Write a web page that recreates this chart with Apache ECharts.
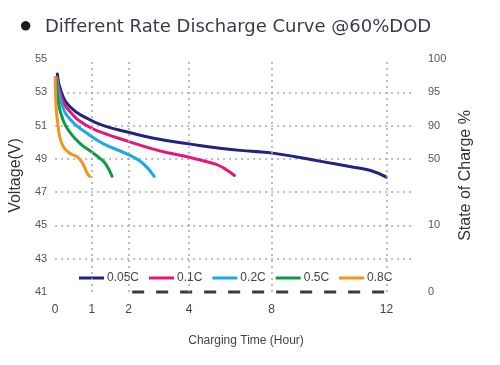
<!DOCTYPE html>
<html>
<head>
<meta charset="utf-8">
<script src="https://cdn.jsdelivr.net/npm/echarts@6/dist/echarts.min.js"></script>
<style>html,body{margin:0;padding:0;background:#fff}#c{width:500px;height:365px}</style>
</head>
<body>
<div id="c"></div>
<script>
// ---- data ----
const seriesNames = ['0.05C', '0.1C', '0.2C', '0.5C', '0.8C'];
const seriesColors = ['#23237e', '#e5177b', '#1ba9e8', '#0e9a48', '#f39321'];

const hours005 = [0.06, 0.17, 0.42, 0.86, 1.32, 2, 2.79, 4, 5.59, 7.04, 8.1, 9.72, 10.86, 11.45, 12];
const volts005 = [54.1, 53.0, 52.1, 51.45, 51.0, 50.6, 50.25, 49.9, 49.62, 49.45, 49.33, 48.85, 48.5, 48.3, 47.9];

const hours01 = [0.05, 0.17, 0.42, 0.86, 1.32, 2, 2.79, 3.34, 4, 5.1, 5.45, 5.83, 6.2];
const volts01 = [53.9, 52.7, 51.8, 51.0, 50.55, 50.05, 49.6, 49.35, 49.1, 48.75, 48.6, 48.33, 48.0];

const hours02 = [0.04, 0.17, 0.42, 0.86, 1.32, 2, 2.46, 2.85];
const volts02 = [53.85, 52.35, 51.35, 50.55, 49.9, 49.25, 48.75, 47.95];

const hours05 = [0.03, 0.08, 0.22, 0.42, 0.69, 0.97, 1.24, 1.39, 1.55];
const volts05 = [53.8, 52.5, 51.3, 50.55, 49.9, 49.45, 49.0, 48.65, 47.95];

const hours08 = [0, 0.01, 0.03, 0.08, 0.17, 0.36, 0.64, 0.78, 0.86, 0.94];
const volts08 = [53.9, 53.0, 52.05, 51.0, 50.0, 49.4, 49.05, 48.6, 48.2, 47.95];

// x-axis tick labels (hours) and where the broken axis places them
const hourTicks = [0, 1, 2, 4, 8, 12];
const tickPos = [0, 1, 2, 3.65, 5.9, 9.03];

// right axis: state of charge labels at voltage levels
const socVolt = [55, 53, 51, 49, 45, 41];
const socLabel = ['100', '95', '90', '50', '10', '0'];

// axis break decoration (hours)
const breakFrom = 2, breakTo = 12, breakVolt = 41;

// ---- helpers ----
function hourToPos(h) {
  for (let i = 0; i < hourTicks.length - 1; i++) {
    if (h <= hourTicks[i + 1]) {
      const t = (h - hourTicks[i]) / (hourTicks[i + 1] - hourTicks[i]);
      return tickPos[i] + t * (tickPos[i + 1] - tickPos[i]);
    }
  }
  return tickPos[tickPos.length - 1];
}
function posToLabel(p) {
  for (let i = 0; i < tickPos.length; i++) if (Math.abs(p - tickPos[i]) < 1e-6) return String(hourTicks[i]);
  return '';
}
const allHours = [hours005, hours01, hours02, hours05, hours08];
const allVolts = [volts005, volts01, volts02, volts05, volts08];

const font = 'Liberation Sans, Arial, sans-serif';
const series = seriesNames.map((n, i) => ({
  name: n, type: 'line', smooth: 0.5, symbol: 'none',
  lineStyle: { width: 3, color: seriesColors[i], cap: 'round', join: 'round' },
  itemStyle: { color: seriesColors[i] },
  data: allHours[i].map((h, k) => [hourToPos(h), allVolts[i][k]])
}));
series.push({
  name: 'break', type: 'line', symbol: 'none', silent: true, clip: false,
  lineStyle: { width: 3, color: '#3a3a3a', type: [12, 12] },
  data: [[hourToPos(breakFrom) + 0.1, breakVolt], [hourToPos(breakTo), breakVolt]],
  markLine: {
    silent: true, symbol: 'none', label: { show: false },
    lineStyle: { type: [2, 4], color: '#a8a8a8', width: 1.5 },
    data: tickPos.slice(1).map(p => ({ xAxis: p }))
  }
});

const chart = echarts.init(document.getElementById('c'));
chart.setOption({
  animation: false,
  backgroundColor: '#fff',
  title: {
    text: '{b|●} Different Rate Discharge Curve @60%DOD',
    left: 19, top: 15, padding: 0,
    textStyle: {
      fontFamily: 'DejaVu Sans, sans-serif', fontSize: 18, fontWeight: 'normal', color: '#3b3b48',
      rich: { b: { fontSize: 22, color: '#1a1a1a', fontFamily: font, padding: [0, 7, 2, 0] } }
    }
  },
  legend: {
    data: seriesNames, left: 79, top: 272, padding: 0, itemWidth: 25, itemHeight: 3, itemGap: 10,
    icon: 'rect',
    textStyle: { fontFamily: font, fontSize: 12, color: '#444', padding: [0, 0, 0, -2] }
  },
  grid: { left: 52, right: 85, top: 59, bottom: 73 },
  xAxis: {
    type: 'value', min: 0, max: 9.81,
    axisLine: { show: false }, axisTick: { show: false }, splitLine: { show: false },
    axisLabel: {
      customValues: tickPos, formatter: v => posToLabel(v), margin: 12,
      fontFamily: font, fontSize: 12, color: '#444', showMinLabel: true, showMaxLabel: true
    },
    name: 'Charging Time (Hour)', nameLocation: 'middle', nameGap: 43,
    nameTextStyle: { fontFamily: font, fontSize: 12, color: '#444', padding: [0, 0, 0, 22] }
  },
  yAxis: [{
    type: 'value', min: 41, max: 55, interval: 2,
    axisLine: { show: false }, axisTick: { show: false },
    splitLine: { show: true, showMinLine: false, showMaxLine: false,
      lineStyle: { type: [2, 4], color: '#a8a8a8', width: 1.5 } },
    axisLabel: { margin: 8, fontFamily: font, fontSize: 11, color: '#555' },
    name: 'Voltage(V)', nameLocation: 'middle', nameRotate: 90, nameGap: 29,
    nameTextStyle: { fontFamily: font, fontSize: 16, color: '#333' }
  }, {
    type: 'value', min: 41, max: 55, interval: 2, position: 'right',
    axisLine: { show: false }, axisTick: { show: false }, splitLine: { show: false },
    axisLabel: {
      margin: 13, fontFamily: font, fontSize: 11, color: '#555',
      formatter: v => { const i = socVolt.indexOf(v); return i >= 0 ? socLabel[i] : ''; }
    },
    name: 'State of Charge %', nameLocation: 'middle', nameRotate: 90, nameGap: 40,
    nameTextStyle: { fontFamily: font, fontSize: 16, color: '#333' }
  }],
  series: series
});
</script>
</body>
</html>
